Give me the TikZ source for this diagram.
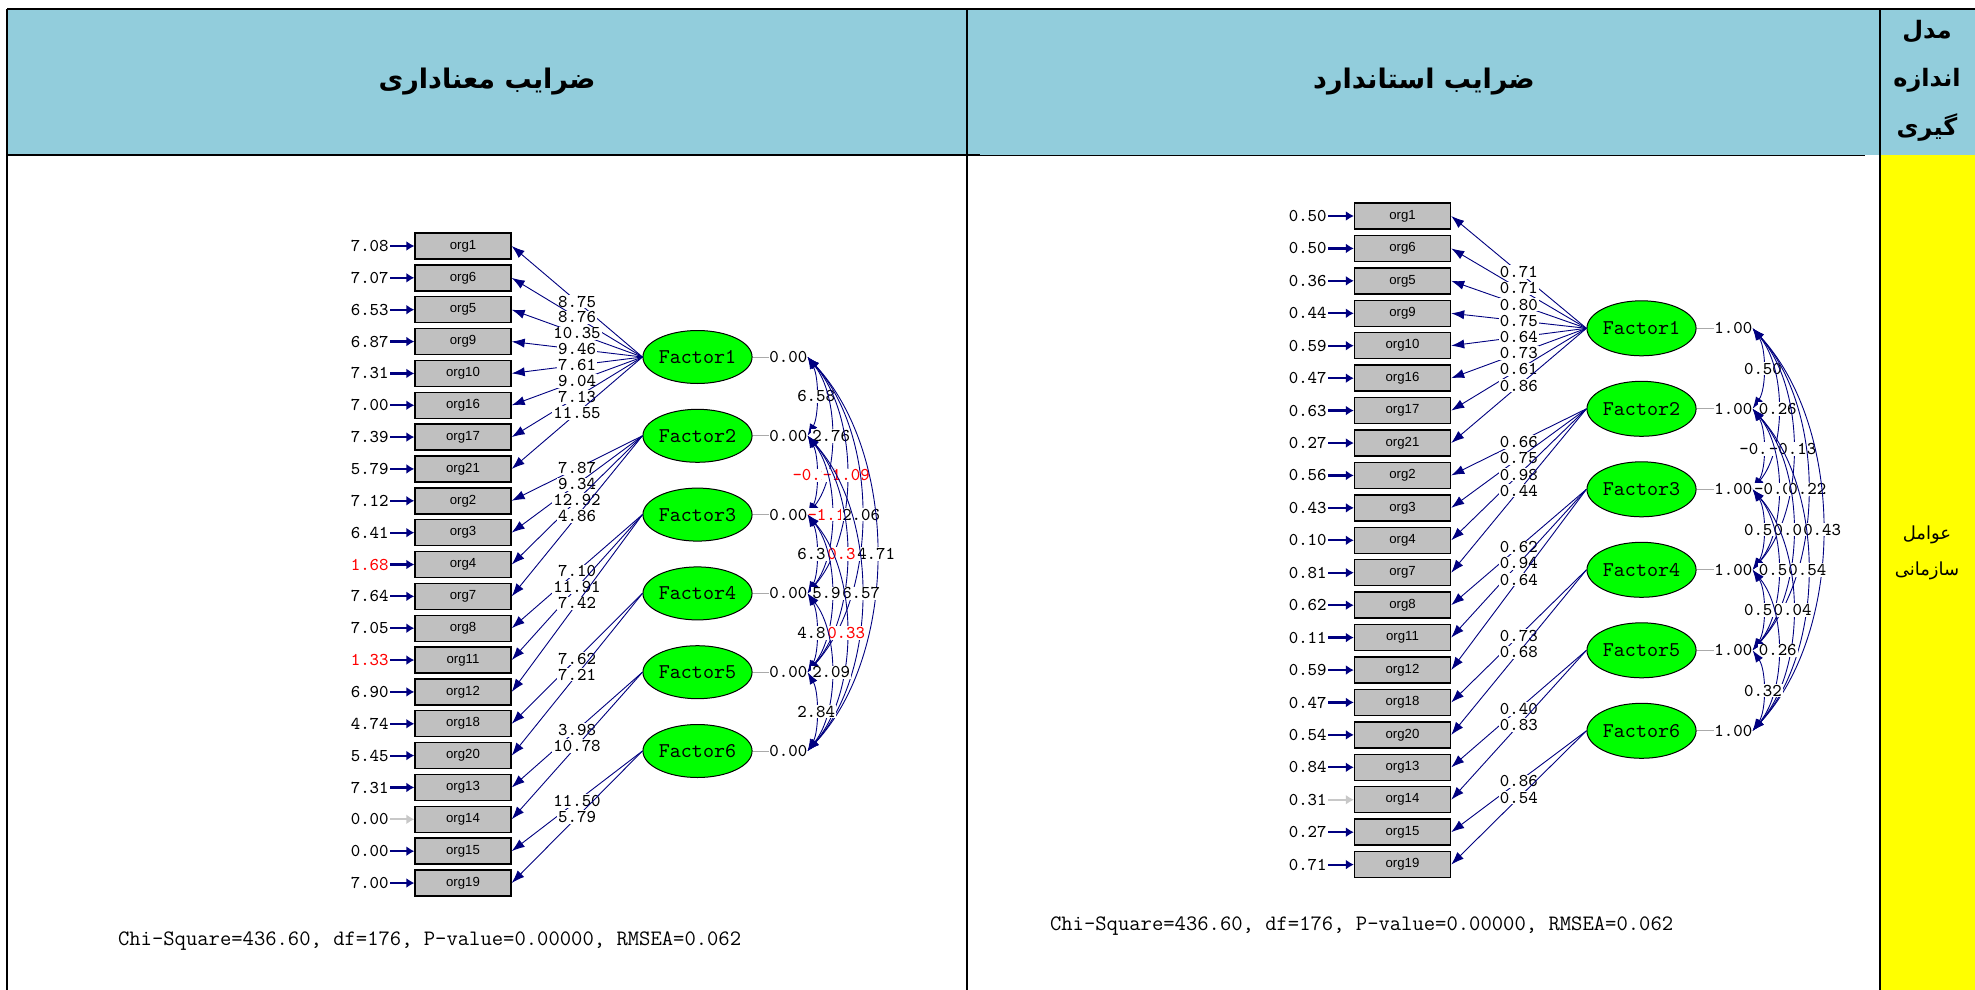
\documentclass[tikz,border=0pt]{standalone}
\usepackage{fontspec}
\usetikzlibrary{arrows.meta,shapes.geometric}
\TeXXeTstate=1
\newfontfamily\arabicfont[Script=Arabic]{DejaVu Sans}
\newfontfamily\orgfont{Liberation Sans}
\definecolor{hdrblue}{RGB}{146,205,220}
\definecolor{cellyellow}{RGB}{255,255,0}
\definecolor{lisnavy}{RGB}{0,0,128}
\definecolor{obsgray}{RGB}{192,192,192}
\definecolor{latgreen}{RGB}{0,255,0}
\definecolor{errgray}{RGB}{200,200,200}
\definecolor{varline}{RGB}{170,170,170}
\definecolor{sigred}{RGB}{255,0,0}

\begin{document}
\begin{tikzpicture}[x=0.5pt,y=-0.5pt,
  obs/.style={draw=black, fill=obsgray, line width=0.7pt, minimum width=48pt,
    minimum height=13pt, inner sep=0pt, font=\orgfont\fontsize{6.6}{7}\selectfont},
  lat/.style={ellipse, draw=black, fill=latgreen, line width=0.5pt,
    minimum width=47.5pt, minimum height=26.5pt, inner sep=0pt,
    font=\ttfamily\fontsize{10.5}{12}\selectfont},
  val/.style={inner sep=0.5pt, font=\ttfamily\fontsize{9}{10}\selectfont},
  lab/.style={val, fill=white},
  load/.style={draw=lisnavy, line width=0.45pt, -{Latex[length=6.5pt,width=4.6pt]}},
  err/.style={line width=1.1pt, -{Latex[length=4pt,width=5pt]}},
  cov/.style={draw=lisnavy, line width=0.45pt,
    {Latex[length=6pt,width=4.2pt]}-{Latex[length=6pt,width=4.2pt]}},
  varln/.style={draw=varline, line width=0.5pt},
  fa/.style={font=\arabicfont\bfseries\fontsize{13.5}{16}\selectfont},
  fb/.style={font=\arabicfont\bfseries\fontsize{12}{14}\selectfont},
  fc/.style={font=\arabicfont\fontsize{9}{11}\selectfont},
  chi/.style={anchor=west, font=\ttfamily\fontsize{11}{12}\selectfont},
]
% page and table
\fill[white] (0,0) rectangle (1975,990);
\useasboundingbox (0,0) rectangle (1975,990);
\fill[hdrblue] (7,9) rectangle (1975,155);
\fill[cellyellow] (1880,155) rectangle (1975,990);
\draw[line width=1pt] (7,9) -- (1975,9);
\draw[line width=1pt] (7,9) -- (7,990);
\draw[line width=1pt] (7,155) -- (980,155);
\draw[line width=0.5pt] (980,155) -- (1865,155);
\draw[line width=0.8pt] (967,9) -- (967,990);
\draw[line width=0.8pt] (1880,9) -- (1880,990);

% header texts
\node[fa] (hL) at (487,82) {\beginR ضرایب معناداری\endR};
\node[fa] (hM) at (1424,82) {\beginR ضرایب استاندارد\endR};
\node[fb] (hR1) at (1927,32) {\beginR مدل\endR};
\node[fb] (hR2) at (1927,80) {\beginR اندازه\endR};
\node[fb] (hR3) at (1927,128) {\beginR گیری\endR};
\node[fc] (yc1) at (1927,535) {\beginR عوامل\endR};
\node[fc] (yc2) at (1927,571) {\beginR سازمانی\endR};

% observed indicators (both models)
\foreach \n [count=\k from 0] in {org1,org6,org5,org9,org10,org16,org17,org21,org2,org3,org4,org7,org8,org11,org12,org18,org20,org13,org14,org15,org19} {
  \node[obs] (L\k) at (463,{246+31.85*\k}) {\n};
  \node[obs] (R\k) at (1402.5,{216+32.43*\k}) {\n};
}

% error terms, t-values
\foreach \v/\tc/\ac [count=\k from 0] in {7.08/black/lisnavy,7.07/black/lisnavy,6.53/black/lisnavy,6.87/black/lisnavy,7.31/black/lisnavy,7.00/black/lisnavy,7.39/black/lisnavy,5.79/black/lisnavy,7.12/black/lisnavy,6.41/black/lisnavy,1.68/sigred/lisnavy,7.64/black/lisnavy,7.05/black/lisnavy,1.33/sigred/lisnavy,6.90/black/lisnavy,4.74/black/lisnavy,5.45/black/lisnavy,7.31/black/lisnavy,0.00/black/errgray,0.00/black/lisnavy,7.00/black/lisnavy} {
  \node[val, anchor=east, text=\tc] (LE\k) at (390,{246+31.85*\k}) {\v};
  \draw[err, draw=\ac] (LE\k.east) -- (L\k.west);
}

% error terms, standardized
\foreach \v/\ac [count=\k from 0] in {0.50/lisnavy,0.50/lisnavy,0.36/lisnavy,0.44/lisnavy,0.59/lisnavy,0.47/lisnavy,0.63/lisnavy,0.27/lisnavy,0.56/lisnavy,0.43/lisnavy,0.10/lisnavy,0.81/lisnavy,0.62/lisnavy,0.11/lisnavy,0.59/lisnavy,0.47/lisnavy,0.54/lisnavy,0.84/lisnavy,0.31/errgray,0.27/lisnavy,0.71/lisnavy} {
  \node[val, anchor=east] (RE\k) at (1328,{216+32.43*\k}) {\v};
  \draw[err, draw=\ac] (RE\k.east) -- (R\k.west);
}

% latent factors with their variances
\foreach \f in {1,...,6} {
  \node[lat] (LF\f) at (697.5,{357+78.8*(\f-1)}) {Factor\f};
  \node[val, anchor=west, inner sep=0pt] (LV\f) at (769,{357+78.8*(\f-1)}) {0.00};
  \draw[varln] (LF\f.east) -- (LV\f.west);
  \node[lat, minimum width=48.5pt, minimum height=27.5pt] (RF\f) at (1641.5,{328.3+80.5*(\f-1)}) {Factor\f};
  \node[val, anchor=west, inner sep=0pt] (RV\f) at (1714,{328.3+80.5*(\f-1)}) {1.00};
  \draw[varln] (RF\f.east) -- (RV\f.west);
}

% loadings, t-values
\foreach \f/\k/\v in {1/0/8.75,1/1/8.76,1/2/10.35,1/3/9.46,1/4/7.61,1/5/9.04,1/6/7.13,1/7/11.55,2/8/7.87,2/9/9.34,2/10/12.92,2/11/4.86,3/12/7.10,3/13/11.91,3/14/7.42,4/15/7.62,4/16/7.21,5/17/3.98,5/18/10.78,6/19/11.50,6/20/5.79} {
  \draw[load] (LF\f.west) -- (L\k.east) node[lab, midway] {\v};
}

% loadings, standardized
\foreach \f/\k/\v in {1/0/0.71,1/1/0.71,1/2/0.80,1/3/0.75,1/4/0.64,1/5/0.73,1/6/0.61,1/7/0.86,2/8/0.66,2/9/0.75,2/10/0.98,2/11/0.44,3/12/0.62,3/13/0.94,3/14/0.64,4/15/0.73,4/16/0.68,5/17/0.40,5/18/0.83,6/19/0.86,6/20/0.54} {
  \draw[load] (RF\f.west) -- (R\k.east) node[lab, midway] {\v};
}

% factor covariances, t-values
\foreach \i/\j/\v/\c in {1/2/6.58/black,1/3/2.76/black,2/3/-0.28/sigred,1/4/-1.09/sigred,2/4/-1.17/sigred,3/4/6.30/black,1/5/2.06/black,2/5/0.34/sigred,3/5/5.96/black,4/5/4.80/black,1/6/4.71/black,2/6/6.57/black,3/6/0.33/sigred,4/6/2.09/black,5/6/2.84/black} {
  \pgfmathsetmacro\yi{357+78.8*(\i-1)}
  \pgfmathsetmacro\yj{357+78.8*(\j-1)}
  \pgfmathsetmacro\ax{801+15*(\j-\i)}
  \pgfmathsetmacro\cx{807+(\ax-807)/0.75}
  \pgfmathsetmacro\cya{\yi+0.25*(\yj-\yi)}
  \pgfmathsetmacro\cyb{\yj-0.25*(\yj-\yi)}
  \draw[cov] (LV\i.east) .. controls (\cx,\cya) and (\cx,\cyb) .. (LV\j.east)
    node[lab, midway, text=\c] {\v};
}

% factor correlations, standardized
\foreach \i/\j/\v in {1/2/0.50,1/3/0.26,2/3/-0.20,1/4/-0.13,2/4/-0.08,3/4/0.55,1/5/0.22,2/5/0.01,3/5/0.53,4/5/0.57,1/6/0.43,2/6/0.54,3/6/0.04,4/6/0.26,5/6/0.32} {
  \pgfmathsetmacro\yi{328.3+80.5*(\i-1)}
  \pgfmathsetmacro\yj{328.3+80.5*(\j-1)}
  \pgfmathsetmacro\ax{1748+14.8*(\j-\i)}
  \pgfmathsetmacro\cx{1752+(\ax-1752)/0.75}
  \pgfmathsetmacro\cya{\yi+0.25*(\yj-\yi)}
  \pgfmathsetmacro\cyb{\yj-0.25*(\yj-\yi)}
  \draw[cov] (RV\i.east) .. controls (\cx,\cya) and (\cx,\cyb) .. (RV\j.east)
    node[lab, midway] {\v};
}

% fit statistics
\node[chi] (chiL) at (111,941) {Chi-Square=436.60, df=176, P-value=0.00000, RMSEA=0.062};
\node[chi] (chiR) at (1043,926) {Chi-Square=436.60, df=176, P-value=0.00000, RMSEA=0.062};
\end{tikzpicture}
\end{document}
